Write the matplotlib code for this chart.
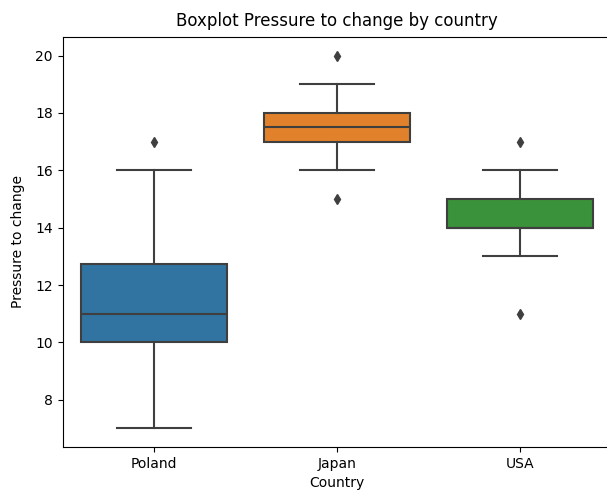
import matplotlib
matplotlib.use("Agg")
import matplotlib.pyplot as plt

countries = ["Poland", "Japan", "USA"]
whislo = [7, 16, 13]
q1 = [10, 17, 14]
med = [11, 17.5, 14]
q3 = [12.75, 18, 15]
whishi = [16, 19, 16]
fliers = [[17], [20, 15], [17, 11]]
colors = ["#3274a1", "#e1812c", "#3a923a"]

fig = plt.figure(figsize=(6.07, 4.93), dpi=100)
ax = fig.add_axes([62.5 / 607, 1 - 447 / 493, 549 / 607, (447 - 37) / 493])

stats = []
for i, c in enumerate(countries):
    stats.append(dict(label=c, whislo=whislo[i], q1=q1[i], med=med[i], q3=q3[i],
                      whishi=whishi[i], fliers=fliers[i]))

lc = "#3f3f3f"
bp = ax.bxp(stats, positions=range(len(countries)), widths=0.8, patch_artist=True,
            showfliers=True,
            boxprops=dict(edgecolor=lc, linewidth=1.5),
            medianprops=dict(color=lc, linewidth=1.5),
            whiskerprops=dict(color=lc, linewidth=1.5),
            capprops=dict(color=lc, linewidth=1.5),
            flierprops=dict(marker="d", markerfacecolor=lc, markeredgecolor=lc, markersize=5))
for patch, col in zip(bp["boxes"], colors):
    patch.set_facecolor(col)

ax.set_xlim(-0.5, 2.5)
ax.set_ylim(6.35, 20.65)
ax.set_yticks([8, 10, 12, 14, 16, 18, 20])
ax.set_xticks(range(len(countries)))
ax.set_xticklabels(countries)
ax.set_xlabel("Country")
ax.set_ylabel("Pressure to change", labelpad=7)
ax.set_title("Boxplot Pressure to change by country", pad=8)
ax.spines["right"].set_visible(False)

fig.savefig("out.png", dpi=100)
